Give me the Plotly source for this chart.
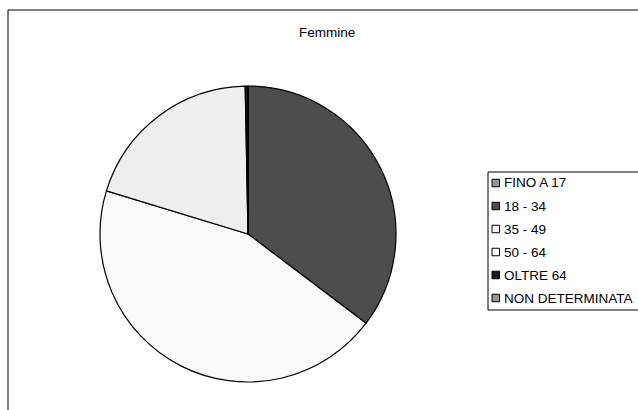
import plotly.graph_objects as go

W, H = 638, 410

labels = ["FINO A 17", "18 - 34", "35 - 49", "50 - 64", "OLTRE 64", "NON DETERMINATA"]
values = [0.0, 35.3, 44.4, 20.0, 0.3, 0.0]
colors = ["#969696", "#4d4d4d", "#f9f9f9", "#eeeeee", "#1c1c1c", "#969696"]
title_text = "Femmine"

def px(x):
    return x / W

def py(y):
    return 1 - y / H

cx, cy, r = 248, 234, 148

fig = go.Figure()
fig.add_trace(go.Pie(
    labels=labels,
    values=values,
    sort=False,
    direction="clockwise",
    rotation=0,
    textinfo="none",
    marker=dict(colors=colors, line=dict(color="#000000", width=1.2)),
    domain=dict(x=[px(cx - r), px(cx + r)], y=[py(cy + r), py(cy - r)]),
    showlegend=False,
))

shapes = []
# outer chart frame (extends beyond the visible area)
shapes.append(dict(type="rect", xref="paper", yref="paper",
                   x0=px(8), x1=px(700), y0=py(480), y1=py(10),
                   line=dict(color="#000000", width=1), fillcolor="rgba(0,0,0,0)"))
# legend box
shapes.append(dict(type="rect", xref="paper", yref="paper",
                   x0=px(488), x1=px(700), y0=py(310), y1=py(172),
                   line=dict(color="#000000", width=1), fillcolor="rgba(0,0,0,0)"))

FONT = "Liberation Sans, Arial"
annotations = [dict(text=title_text, x=px(327), y=py(33), xref="paper", yref="paper",
                    showarrow=False, xanchor="center", yanchor="middle",
                    font=dict(family=FONT, size=13.5, color="#000000"))]

row0, step = 183, 23
for i, (lab, col) in enumerate(zip(labels, colors)):
    yc = row0 + i * step
    fill = col if col not in ("#f9f9f9", "#eeeeee") else "#ffffff"
    shapes.append(dict(type="rect", xref="paper", yref="paper",
                       x0=px(492), x1=px(499.5), y0=py(yc + 3.75), y1=py(yc - 3.75),
                       line=dict(color="#000000", width=1), fillcolor=fill))
    annotations.append(dict(text=lab, x=px(502), y=py(yc), xref="paper", yref="paper",
                            showarrow=False, xanchor="left", yanchor="middle",
                            font=dict(family=FONT, size=13.5, color="#000000")))

fig.update_layout(
    width=W, height=H,
    margin=dict(l=0, r=0, t=0, b=0),
    paper_bgcolor="#ffffff",
    plot_bgcolor="#ffffff",
    shapes=shapes,
    annotations=annotations,
)

fig.write_html("out.html")
